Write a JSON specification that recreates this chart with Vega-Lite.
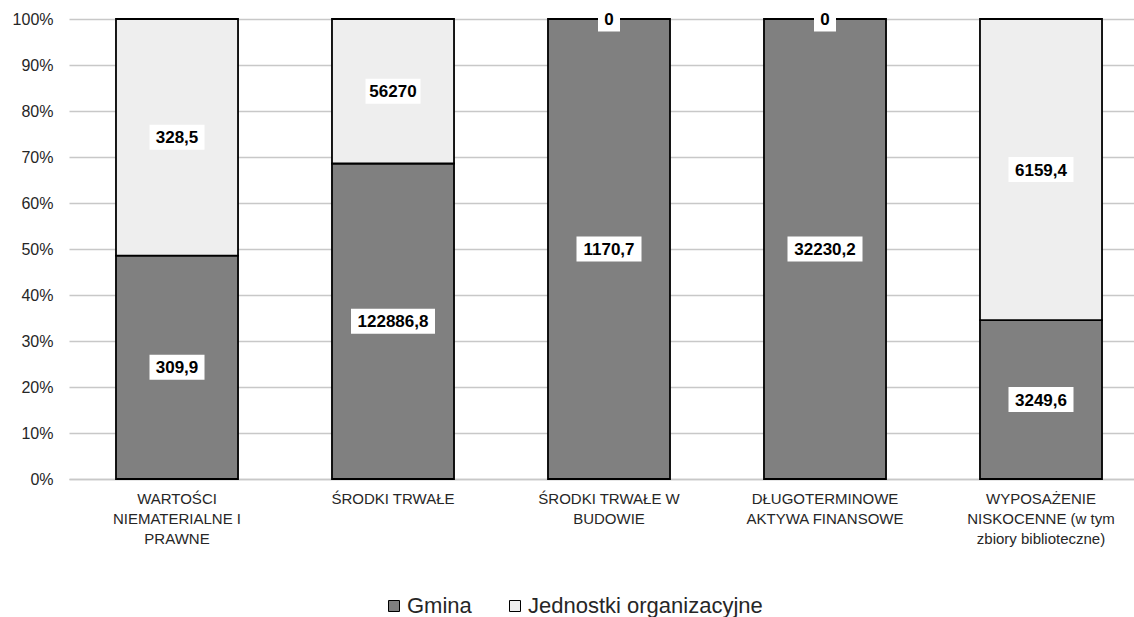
{
  "$schema": "https://vega.github.io/schema/vega-lite/v6.json",
  "width": 1065,
  "height": 460,
  "autosize": {"type": "none"},
  "padding": {"left": 69, "top": 19, "right": 0, "bottom": 138},
  "config": {
    "locale": {"number": {"decimal": ",", "thousands": " ", "grouping": [3], "currency": ["", " zł"]}},
    "view": {"stroke": null},
    "font": "Liberation Sans"
  },
  "data": {
    "values": [
      {"cat": "WARTOŚCI NIEMATERIALNE I PRAWNE", "series": "Gmina", "value": 309.9},
      {"cat": "WARTOŚCI NIEMATERIALNE I PRAWNE", "series": "Jednostki organizacyjne", "value": 328.5},
      {"cat": "ŚRODKI TRWAŁE", "series": "Gmina", "value": 122886.8},
      {"cat": "ŚRODKI TRWAŁE", "series": "Jednostki organizacyjne", "value": 56270},
      {"cat": "ŚRODKI TRWAŁE W BUDOWIE", "series": "Gmina", "value": 1170.7},
      {"cat": "ŚRODKI TRWAŁE W BUDOWIE", "series": "Jednostki organizacyjne", "value": 0},
      {"cat": "DŁUGOTERMINOWE AKTYWA FINANSOWE", "series": "Gmina", "value": 32230.2},
      {"cat": "DŁUGOTERMINOWE AKTYWA FINANSOWE", "series": "Jednostki organizacyjne", "value": 0},
      {"cat": "WYPOSAŻENIE NISKOCENNE (w tym zbiory biblioteczne)", "series": "Gmina", "value": 3249.6},
      {"cat": "WYPOSAŻENIE NISKOCENNE (w tym zbiory biblioteczne)", "series": "Jednostki organizacyjne", "value": 6159.4}
    ]
  },
  "transform": [
    {"stack": "value", "groupby": ["cat"], "sort": [{"field": "series", "order": "ascending"}], "offset": "normalize", "as": ["y0", "y1"]},
    {"calculate": "(datum.y0 + datum.y1) / 2", "as": "mid"},
    {"calculate": "length(format(datum.value, '.1~f'))", "as": "len"}
  ],
  "encoding": {
    "x": {
      "field": "cat",
      "type": "nominal",
      "sort": ["WARTOŚCI NIEMATERIALNE I PRAWNE", "ŚRODKI TRWAŁE", "ŚRODKI TRWAŁE W BUDOWIE", "DŁUGOTERMINOWE AKTYWA FINANSOWE", "WYPOSAŻENIE NISKOCENNE (w tym zbiory biblioteczne)"],
      "scale": {"paddingInner": 0.435, "paddingOuter": 0.1828, "align": 0.595},
      "axis": {
        "title": null,
        "labelAngle": 0,
        "ticks": false,
        "grid": false,
        "domain": true,
        "domainColor": "#c8c8c8",
        "domainWidth": 1.5,
        "labelFontSize": 15,
        "labelColor": "#262626",
        "labelPadding": 12,
        "labelLineHeight": 20,
        "labelBaseline": "top",
        "labelOverlap": false,
        "labelLimit": 0,
        "labelExpr": "datum.value == 'WARTOŚCI NIEMATERIALNE I PRAWNE' ? ['WARTOŚCI', 'NIEMATERIALNE I', 'PRAWNE'] : datum.value == 'ŚRODKI TRWAŁE W BUDOWIE' ? ['ŚRODKI TRWAŁE W', 'BUDOWIE'] : datum.value == 'DŁUGOTERMINOWE AKTYWA FINANSOWE' ? ['DŁUGOTERMINOWE', 'AKTYWA FINANSOWE'] : datum.value == 'WYPOSAŻENIE NISKOCENNE (w tym zbiory biblioteczne)' ? ['WYPOSAŻENIE', 'NISKOCENNE (w tym', 'zbiory biblioteczne)'] : datum.value"
      }
    }
  },
  "layer": [
    {
      "mark": {"type": "bar", "stroke": "#000000", "strokeWidth": 1.8},
      "encoding": {
        "y": {
          "field": "y1",
          "type": "quantitative",
          "scale": {"domain": [0, 1], "nice": false},
          "axis": {
            "title": null,
            "values": [0, 0.1, 0.2, 0.3, 0.4, 0.5, 0.6, 0.7, 0.8, 0.9, 1],
            "format": ".0%",
            "grid": true,
            "gridColor": "#c8c8c8",
            "gridWidth": 1.5,
            "domain": false,
            "ticks": false,
            "labelFontSize": 16,
            "labelColor": "#262626",
            "labelPadding": 16
          }
        },
        "y2": {"field": "y0"},
        "fill": {
          "field": "series",
          "type": "nominal",
          "scale": {"domain": ["Gmina", "Jednostki organizacyjne"], "range": ["#808080", "#eeeeee"]},
          "legend": {
            "title": null,
            "orient": "none",
            "legendX": 314,
            "legendY": 576,
            "direction": "horizontal",
            "symbolType": "square",
            "symbolSize": 121,
            "symbolStrokeColor": "#000000",
            "symbolStrokeWidth": 1,
            "labelFontSize": 22,
            "labelColor": "#262626",
            "labelOffset": 2,
            "labelLimit": 0,
            "columnPadding": 32
          }
        }
      }
    },
    {
      "mark": {"type": "point", "filled": true, "fill": "#ffffff", "opacity": 1, "size": 10000, "strokeWidth": 0},
      "encoding": {
        "y": {"field": "mid", "type": "quantitative"},
        "shape": {
          "field": "len",
          "type": "nominal",
          "scale": {
            "domain": [1, 5, 6, 7, 8],
            "range": [
              "M-0.22,-0.25H0.22V0.25H-0.22Z",
              "M-0.55,-0.25H0.55V0.25H-0.55Z",
              "M-0.65,-0.25H0.65V0.25H-0.65Z",
              "M-0.75,-0.25H0.75V0.25H-0.75Z",
              "M-0.84,-0.25H0.84V0.25H-0.84Z"
            ]
          },
          "legend": null
        }
      }
    },
    {
      "mark": {"type": "text", "fontWeight": "bold", "fontSize": 17, "color": "#000000", "baseline": "middle", "align": "center", "dy": 1},
      "encoding": {
        "y": {"field": "mid", "type": "quantitative"},
        "text": {"field": "value", "type": "quantitative", "format": ".1~f"}
      }
    }
  ]
}
